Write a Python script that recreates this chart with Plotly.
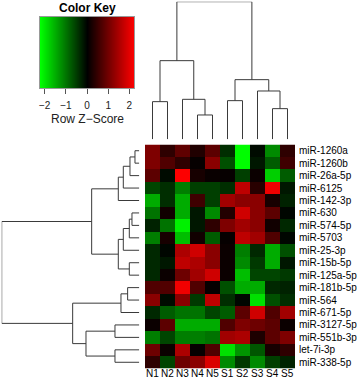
import plotly.graph_objects as go

W, H = 358, 379

col_labels = ["N1", "N2", "N3", "N4", "N5", "S1", "S2", "S3", "S4", "S5"]
row_labels = ["miR-1260a", "miR-1260b", "miR-26a-5p", "miR-6125", "miR-142-3p",
              "miR-630", "miR-574-5p", "miR-5703", "miR-25-3p", "miR-15b-5p",
              "miR-125a-5p", "miR-181b-5p", "miR-564", "miR-671-5p",
              "miR-3127-5p", "miR-551b-3p", "let-7i-3p", "miR-338-5p"]

# Row Z-scores (rows top->bottom, columns N1..S5)
z_values = [
    [1.10, 0.40, 0.83, 0.28, 0.80, -0.40, -2.20, -0.10, -1.20, 0.40],
    [1.10, 0.70, 0.40, 0.05, 1.20, -0.70, -2.20, -0.20, -0.80, 0.55],
    [0.80, -0.10, 2.20, 0.20, 0.08, 0.05, -0.55, 0.10, -1.80, -0.80],
    [-0.60, -0.40, -1.10, -0.55, -0.55, -0.40, 1.65, 0.35, 2.10, -0.20],
    [-1.50, -0.40, -1.50, 0.55, -0.55, 1.40, 1.20, 1.20, 0.20, -0.30],
    [-1.00, 0.15, -1.50, -0.20, -1.20, 0.30, 1.80, 1.20, 0.80, -0.05],
    [-0.30, -1.00, -2.10, -0.20, 0.40, 1.10, 1.40, 1.20, 0.15, -0.35],
    [-1.10, 0.20, -1.65, 0.15, -0.80, 0.05, 1.65, 1.40, 0.70, -0.05],
    [-0.35, -0.05, 1.50, 1.80, 1.20, 0.10, -1.10, -0.35, -1.50, -0.70],
    [-0.35, -0.20, 1.65, 1.50, 1.20, 0.10, -1.20, -0.50, -1.50, -0.20],
    [-0.35, 0.10, 0.95, 1.40, 1.80, 0.10, -1.65, -0.60, -0.60, -0.50],
    [0.70, 0.70, 2.10, 0.70, 0.05, -0.70, -1.50, -1.50, -0.35, -0.30],
    [1.20, -0.10, 1.20, -0.50, 1.65, -0.40, -0.05, -1.95, -0.70, -0.40],
    [-0.35, -0.80, -1.00, -1.00, -0.60, -0.80, 0.80, 1.80, 0.70, 1.40],
    [0.10, 0.80, -1.50, -1.50, -1.50, 0.70, 1.10, 0.95, 0.80, 0.10],
    [-1.10, -0.60, -1.10, -1.10, -1.00, 1.40, 1.50, 0.25, 0.80, 1.10],
    [0.95, 0.10, 1.50, 0.05, 0.70, -1.95, -1.30, -0.75, 0.20, 0.40],
    [0.40, -0.60, 0.95, 1.20, 1.90, -1.20, -0.50, -1.20, -0.55, -0.30],
]

# Dendrogram merges: (child_a, child_b, height); leaves are 0..n-1, new nodes n, n+1, ...
row_merges = [
    (0, 1, 13), (18, 2, 28), (19, 3, 48), (20, 4, 63),
    (5, 6, 22), (22, 7, 30), (23, 8, 48), (9, 10, 30), (24, 25, 63),
    (21, 26, 143),
    (11, 12, 35), (28, 13, 55), (14, 15, 73), (16, 17, 73), (30, 31, 160),
    (29, 32, 200),
    (27, 33, 413),
]
col_merges = [
    (0, 1, 113), (3, 4, 73), (2, 11, 120), (10, 12, 236),
    (5, 6, 116), (8, 9, 92), (7, 15, 145), (14, 16, 179),
    (13, 17, 413),
]

key_ticks = [-2, -1, 0, 1, 2]
ZLIM = 2.22

colorscale = [[0.0, "#00FF00"], [0.5, "#000000"], [1.0, "#FF0000"]]
FONT = "Liberation Sans, Arial, sans-serif"
LINE = "#3a3a3a"


def dendro_segments(merges, n):
    pos = {i: float(i) for i in range(n)}
    hgt = {i: 0.0 for i in range(n)}
    P, Hs = [], []
    for k, (a, b, h) in enumerate(merges):
        node = n + k
        P += [pos[a], pos[a], pos[b], pos[b], None]
        Hs += [hgt[a], h, h, hgt[b], None]
        pos[node] = (pos[a] + pos[b]) / 2.0
        hgt[node] = h
    return P, Hs


def px_x(v):
    return v / W


def px_y(v):
    return 1 - v / H


nrow, ncol = len(row_labels), len(col_labels)

fig = go.Figure()

fig.add_trace(go.Heatmap(
    z=z_values, x=list(range(ncol)), y=list(range(nrow)),
    colorscale=colorscale, zmin=-ZLIM, zmax=ZLIM, showscale=False,
    xaxis="x", yaxis="y", hoverinfo="skip"))

cp, ch = dendro_segments(col_merges, ncol)
fig.add_trace(go.Scatter(x=cp, y=ch, mode="lines", line=dict(color=LINE, width=1),
                         xaxis="x2", yaxis="y2", hoverinfo="skip", showlegend=False))

rp, rh = dendro_segments(row_merges, nrow)
fig.add_trace(go.Scatter(x=rh, y=rp, mode="lines", line=dict(color=LINE, width=1),
                         xaxis="x3", yaxis="y3", hoverinfo="skip", showlegend=False))

fig.add_trace(go.Heatmap(
    z=[[-ZLIM, ZLIM]], x=[-ZLIM, ZLIM], y=[0],
    colorscale=colorscale, zmin=-ZLIM, zmax=ZLIM, zsmooth="best", showscale=False,
    xaxis="x4", yaxis="y4", hoverinfo="skip"))

hm_x = [px_x(145), px_x(295)]
hm_y = [px_y(368.5), px_y(144.5)]

noax = dict(showgrid=False, zeroline=False, showticklabels=False, ticks="",
            showline=False, automargin=False)

annotations = [
    dict(text="<b>Color Key</b>", xref="paper", yref="paper", x=px_x(87), y=px_y(8),
         xanchor="center", yanchor="middle", showarrow=False,
         font=dict(size=12, color="black", family=FONT)),
    dict(text="Row Z\u2212Score", xref="paper", yref="paper", x=px_x(87), y=px_y(118.5),
         xanchor="center", yanchor="middle", showarrow=False,
         font=dict(size=12, color="#222222", family=FONT)),
]
for i, lab in enumerate(col_labels):
    annotations.append(dict(text=lab, xref="x", yref="paper", x=i, y=px_y(373.5),
                            xanchor="center", yanchor="middle", showarrow=False,
                            font=dict(size=10, color="black", family=FONT)))

fig.update_layout(
    template="none",
    width=W, height=H, margin=dict(l=0, r=0, t=0, b=0, pad=0, autoexpand=False),
    paper_bgcolor="white", plot_bgcolor="white",
    font=dict(family=FONT, color="black"),
    showlegend=False,
    xaxis=dict(domain=hm_x, range=[-0.5, ncol - 0.5], anchor="y", automargin=False,
               showticklabels=False, ticks="", showgrid=False, zeroline=False,
               showline=False),
    yaxis=dict(domain=hm_y, range=[nrow - 0.5, -0.5], anchor="x", side="right",
               automargin=False,
               tickmode="array", tickvals=list(range(nrow)), ticktext=row_labels,
               ticks="", showgrid=False, zeroline=False, showline=False,
               tickfont=dict(size=10, color="black", family=FONT), ticklabelstandoff=3),
    xaxis2=dict(domain=hm_x, range=[-0.5, ncol - 0.5], anchor="y2", **noax),
    yaxis2=dict(domain=[px_y(139.3), px_y(1.7)], range=[0, 413], anchor="x2", **noax),
    xaxis3=dict(domain=[px_x(1.7), px_x(139.3)], range=[413, 0], anchor="y3", **noax),
    yaxis3=dict(domain=hm_y, range=[nrow - 0.5, -0.5], anchor="x3", **noax),
    xaxis4=dict(domain=[px_x(40), px_x(134)], range=[-ZLIM, ZLIM], anchor="y4",
                automargin=False, tickangle=0,
                tickmode="array", tickvals=key_ticks, ticks="outside", ticklen=5,
                tickcolor="#555555", showgrid=False, zeroline=False,
                showline=True, linecolor="#999999", mirror=True,
                tickfont=dict(size=10, color="#222222", family=FONT), ticklabelstandoff=3),
    yaxis4=dict(domain=[px_y(88), px_y(17)], range=[-0.5, 0.5], anchor="x4",
                automargin=False,
                showgrid=False, zeroline=False, showticklabels=False, ticks="",
                showline=True, linecolor="#999999", mirror=True),
    annotations=annotations,
)

fig.write_html(
    "out.html",
    config={"displayModeBar": False, "staticPlot": True},
    post_script="document.body.style.margin='0px';document.body.style.overflow='hidden';",
)
